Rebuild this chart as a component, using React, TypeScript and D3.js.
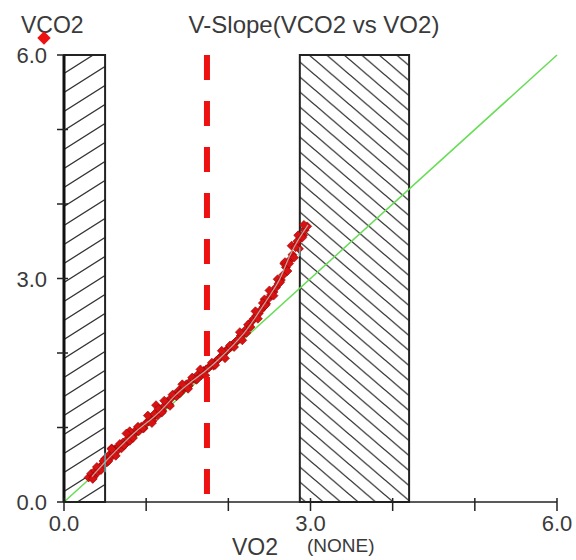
import React from 'react';
import * as d3 from 'd3';

// VO2 / VCO2 breath samples (L/min)
const vo2 = [
  0.30, 0.33, 0.36, 0.38, 0.41, 0.44, 0.47, 0.50, 0.52, 0.55, 0.57, 0.60, 0.62, 0.64, 0.67, 0.70,
  0.72, 0.75, 0.78, 0.80, 0.83, 0.86, 0.88, 0.91, 0.94, 0.97, 1.00, 1.03, 1.06, 1.08, 1.11, 1.14,
  1.17, 1.20, 1.23, 1.26, 1.28, 1.31, 1.34, 1.37, 1.40, 1.43, 1.46, 1.49, 1.52, 1.55, 1.58, 1.61,
  1.64, 1.67, 1.70, 1.73, 1.76, 1.79, 1.82, 1.85, 1.88, 1.91, 1.94, 1.97, 2.00, 2.03, 2.06, 2.09,
  2.12, 2.15, 2.18, 2.20, 2.22, 2.25, 2.28, 2.31, 2.34, 2.37, 2.40, 2.43, 2.46, 2.49, 2.52, 2.55,
  2.58, 2.61, 2.64, 2.67, 2.70, 2.72, 2.75, 2.78, 2.80, 2.83, 2.86, 2.88, 2.91, 2.93, 2.96,
  0.58, 0.80, 1.12, 1.15, 2.44, 2.68, 2.84,
  0.40, 0.48, 0.58, 0.68, 0.76, 0.90, 1.02, 1.10, 1.22, 1.32, 1.44, 1.56, 1.66, 1.80, 1.92, 2.02,
  2.14, 2.24, 2.33, 2.42, 2.50, 2.60, 2.69, 2.77, 2.85, 2.92,
  0.35, 0.45, 0.54, 0.63, 0.73, 0.84, 0.96, 1.07, 1.19, 1.29, 1.41, 1.51, 1.62, 1.72, 1.84, 1.96,
  2.07, 2.17, 2.27, 2.36, 2.45, 2.55, 2.63, 2.74, 2.82, 2.90,
];
const vco2 = [
  0.33, 0.38, 0.34, 0.42, 0.40, 0.47, 0.50, 0.58, 0.53, 0.63, 0.60, 0.66, 0.71, 0.68, 0.75, 0.72,
  0.80, 0.78, 0.85, 0.82, 0.90, 0.92, 0.97, 0.95, 1.01, 0.99, 1.06, 1.08, 1.12, 1.09, 1.18, 1.16,
  1.24, 1.22, 1.30, 1.35, 1.31, 1.40, 1.44, 1.42, 1.50, 1.49, 1.55, 1.58, 1.56, 1.63, 1.66, 1.64,
  1.72, 1.70, 1.76, 1.78, 1.80, 1.84, 1.83, 1.89, 1.92, 1.95, 1.98, 2.03, 2.05, 2.08, 2.12, 2.15,
  2.18, 2.23, 2.25, 2.30, 2.27, 2.38, 2.42, 2.46, 2.50, 2.53, 2.58, 2.62, 2.66, 2.73, 2.78, 2.82,
  2.88, 2.93, 2.98, 3.05, 3.15, 3.10, 3.25, 3.32, 3.28, 3.45, 3.40, 3.55, 3.58, 3.65, 3.70,
  0.72, 0.95, 1.30, 1.25, 2.72, 3.20, 3.50,
  0.47, 0.55, 0.71, 0.78, 0.92, 1.01, 1.16, 1.18, 1.36, 1.44, 1.58, 1.67, 1.78, 1.87, 2.03, 2.10,
  2.28, 2.38, 2.56, 2.67, 2.84, 2.99, 3.22, 3.44, 3.58, 3.72,
  0.31, 0.43, 0.55, 0.62, 0.76, 0.86, 0.99, 1.06, 1.20, 1.29, 1.46, 1.52, 1.65, 1.70, 1.84, 1.93,
  2.08, 2.17, 2.35, 2.46, 2.64, 2.77, 2.95, 3.20, 3.42, 3.55,
];

// smoothed trend through the samples
const trendX = [0.34, 0.50, 0.68, 0.86, 1.05, 1.17, 1.37, 1.53, 1.74, 1.90, 2.08, 2.20, 2.35, 2.51, 2.63, 2.71, 2.81, 2.91, 2.97];
const trendY = [0.34, 0.54, 0.74, 0.94, 1.10, 1.21, 1.46, 1.60, 1.77, 1.93, 2.13, 2.27, 2.51, 2.78, 2.98, 3.22, 3.45, 3.62, 3.72];

// excluded ranges (VO2)
const excluded = [
  { from: 0.0, to: 0.5, dir: 'up' },
  { from: 2.87, to: 4.2, dir: 'down' },
];
const thresholdVO2 = 1.74; // V-slope break point
const ticks = [0, 1, 2, 3, 4, 5, 6];
const tickLabels = ['0.0', '', '', '3.0', '', '', '6.0'];

const W = 576;
const H = 560;
const font = 'Liberation Sans, Arial, sans-serif';
const txt = '#3a3a3a';

export default function App() {
  const x = d3.scaleLinear().domain([0, 6]).range([64, 557]);
  const y = d3.scaleLinear().domain([0, 6]).range([502, 55]);
  const pts = vo2.map((v, i) => [v, vco2[i]]);
  const trend = d3.line<number>()
    .x((d, i) => x(trendX[i]))
    .y((d, i) => y(trendY[i]))
    .curve(d3.curveBasis)(trendX);
  const marker = d3.symbol().type(d3.symbolSquare).size(40)();

  return (
    <svg width={W} height={H} style={{ position: 'absolute', left: 0, top: 0, background: '#fff' }}>
      <defs>
        <pattern id="hatchUp" patternUnits="userSpaceOnUse" width={30} height={19}>
          <path d="M-30,19 L30,-19 M0,19 L30,0 M0,38 L60,0" stroke="#333" strokeWidth={1.3} />
        </pattern>
        <pattern id="hatchDown" patternUnits="userSpaceOnUse" width={17.5} height={15}>
          <path d="M-17.5,0 L17.5,30 M0,0 L17.5,15 M0,-15 L35,15" stroke="#333" strokeWidth={1.3} />
        </pattern>
      </defs>

      {/* excluded regions */}
      {excluded.map((r, i) => (
        <rect key={i} x={x(r.from)} y={y(6)} width={x(r.to) - x(r.from)} height={y(0) - y(6)}
          fill={r.dir === 'up' ? 'url(#hatchUp)' : 'url(#hatchDown)'} stroke="#222" strokeWidth={2} />
      ))}

      {/* identity line */}
      <line x1={x(0)} y1={y(0)} x2={x(6)} y2={y(6)} stroke="#66dd55" strokeWidth={1.5} />

      {/* samples */}
      {pts.map((p, i) => (
        <path key={i} d={marker ?? ''} transform={`translate(${x(p[0])},${y(p[1])}) rotate(45)`}
          fill="#d81212" stroke="#9a0000" strokeWidth={0.6} />
      ))}
      <path d={trend ?? ''} fill="none" stroke="#b8a8a0" strokeWidth={1.2} />
      <line x1={x(0.5)} y1={y(0.4)} x2={x(0.5)} y2={y(0.66)} stroke="#55cccc" strokeWidth={1.2} />
      <line x1={x(2.87)} y1={y(3.3)} x2={x(2.87)} y2={y(3.42)} stroke="#55cccc" strokeWidth={1.2} />

      {/* threshold */}
      <line x1={x(thresholdVO2)} y1={y(6)} x2={x(thresholdVO2)} y2={y(0)} stroke="#ee1111"
        strokeWidth={6} strokeDasharray="25 21" />

      {/* axes */}
      <line x1={x(0)} y1={y(0)} x2={x(6)} y2={y(0)} stroke="#222" strokeWidth={1.5} />
      <line x1={x(0)} y1={y(0)} x2={x(0)} y2={y(6)} stroke="#111" strokeWidth={3} />
      {ticks.map((t, i) => (
        <g key={'x' + i}>
          <line x1={x(t)} y1={y(0) - 4} x2={x(t)} y2={y(0) + 9} stroke="#222" strokeWidth={1.5} />
          {tickLabels[i] && (
            <text x={x(t)} y={y(0) + 29} textAnchor="middle" fontFamily={font} fontSize={22} fill={txt}>{tickLabels[i]}</text>
          )}
        </g>
      ))}
      {ticks.map((t, i) => (
        <g key={'y' + i}>
          <line x1={x(0) - 7} y1={y(t)} x2={x(0) + 4} y2={y(t)} stroke="#222" strokeWidth={1.5} />
          {tickLabels[i] && (
            <text x={x(0) - 17} y={y(t) + 8} textAnchor="end" fontFamily={font} fontSize={22} fill={txt}>{tickLabels[i]}</text>
          )}
        </g>
      ))}

      {/* titles */}
      <text x={314} y={33} textAnchor="middle" fontFamily={font} fontSize={24} fill={txt}>V-Slope(VCO2 vs VO2)</text>
      <text x={21} y={33} fontFamily={font} fontSize={23} fill={txt}>VCO2</text>
      <path d={d3.symbol().type(d3.symbolSquare).size(90)() ?? ''} transform="translate(44,38) rotate(45)" fill="#ee1111" />
      <text x={232} y={555} fontFamily={font} fontSize={23} fill={txt}>VO2</text>
      <text x={307} y={552} fontFamily={font} fontSize={19} fill={txt}>(NONE)</text>
    </svg>
  );
}
